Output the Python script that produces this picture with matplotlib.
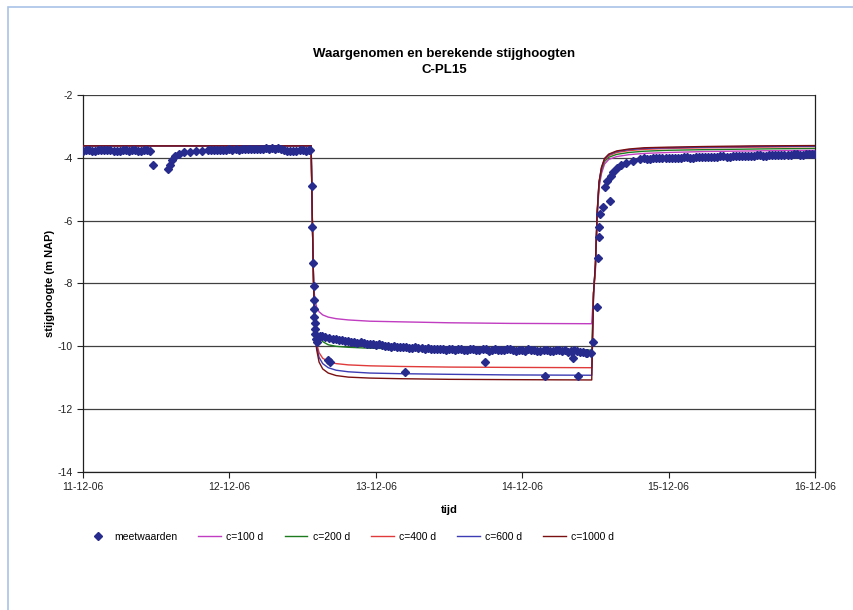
import matplotlib
matplotlib.use("Agg")
import matplotlib.pyplot as plt
import matplotlib.dates as mdates
from matplotlib.patches import Rectangle
import pandas as pd

plt.rcParams['font.family'] = ['Liberation Sans', 'DejaVu Sans']
plt.rcParams['axes.unicode_minus'] = False

# start van de meetreeks
start = pd.Timestamp("2006-12-11 00:00")

# meetwaarden als (uren na start, stijghoogte m NAP)
meet_voor = [(0, -3.77), (0.5, -3.76), (1, -3.75), (1.5, -3.77), (2, -3.78), (2.5, -3.76), (3, -3.76),
             (3.5, -3.74), (4, -3.74), (4.5, -3.76), (5, -3.77), (5.5, -3.78), (6, -3.79), (6.5, -3.76),
             (7, -3.75), (7.5, -3.77), (8, -3.76), (8.5, -3.75), (9, -3.78), (9.5, -3.79), (10, -3.74),
             (10.5, -3.76), (11, -3.77), (11.5, -4.22),
             (13.9, -4.36), (14.2, -4.22), (14.6, -4.06), (15.1, -3.95), (15.7, -3.88), (16.5, -3.83),
             (17.5, -3.80), (18.5, -3.78), (19.5, -3.77), (20.5, -3.76),
             (21, -3.76), (21.5, -3.75), (22, -3.74), (22.5, -3.75), (23, -3.74), (23.5, -3.75), (24, -3.73),
             (24.5, -3.74), (25, -3.73), (25.5, -3.74), (26, -3.72), (26.5, -3.73), (27, -3.72), (27.5, -3.73),
             (28, -3.71), (28.5, -3.72), (29, -3.71), (29.5, -3.72), (30, -3.70), (30.5, -3.71), (31, -3.70),
             (31.5, -3.71), (32, -3.70), (32.5, -3.71), (33, -3.74), (33.5, -3.77), (34, -3.78), (34.5, -3.77),
             (35, -3.77), (35.5, -3.76), (36, -3.76), (36.5, -3.77), (37, -3.76), (37.2, -3.75)]

meet_daling = [(37.5, -4.89), (37.6, -6.19), (37.7, -7.35), (37.8, -8.08), (37.85, -8.54), (37.9, -8.81),
               (37.95, -9.07), (38.0, -9.26), (38.05, -9.44), (38.1, -9.60), (38.2, -9.76), (38.3, -9.86),
               (38.5, -9.74), (38.8, -9.68), (39.2, -9.66), (39.7, -9.70), (40.2, -10.44), (40.3, -9.72),
               (40.5, -10.50),
               (41, -9.76), (41.5, -9.78), (42, -9.80), (42.5, -9.79), (43, -9.83), (43.5, -9.84), (44, -9.85),
               (44.5, -9.87), (45, -9.88), (45.5, -9.87), (46, -9.90), (46.5, -9.91), (47, -9.92), (47.5, -9.94),
               (48, -9.95), (48.5, -9.94), (49, -9.97), (49.5, -9.98), (50, -9.99), (50.5, -10.01), (51, -10.00),
               (51.5, -10.02), (52, -10.02), (52.5, -10.01), (52.8, -10.82), (53, -10.03), (53.5, -10.05),
               (54, -10.05), (54.5, -10.03), (55, -10.04), (55.5, -10.06), (56, -10.07), (56.5, -10.05),
               (57, -10.08), (57.5, -10.09), (58, -10.10), (58.5, -10.07), (59, -10.08), (59.5, -10.11),
               (60, -10.10), (60.5, -10.09), (61, -10.12), (61.5, -10.10), (62, -10.09), (62.5, -10.13),
               (63, -10.11), (63.5, -10.08), (64, -10.10), (64.5, -10.12), (65, -10.12), (65.5, -10.09),
               (65.9, -10.50), (66, -10.10), (66.5, -10.14), (67, -10.13), (67.5, -10.10), (68, -10.11),
               (68.5, -10.13), (69, -10.12), (69.5, -10.09), (70, -10.10), (70.5, -10.13), (71, -10.14),
               (71.5, -10.11), (72, -10.12), (72.5, -10.15), (73, -10.10), (73.5, -10.12), (74, -10.13),
               (74.5, -10.16), (75, -10.15), (75.5, -10.12), (75.7, -10.95), (76, -10.12), (76.5, -10.15),
               (77, -10.14), (77.5, -10.11), (78, -10.11), (78.5, -10.14), (79, -10.13), (79.5, -10.17),
               (80, -10.16), (80.3, -10.36), (80.5, -10.13), (81, -10.14), (81.1, -10.95), (81.5, -10.17),
               (82, -10.18), (82.5, -10.20), (82.7, -10.22), (83.2, -10.20)]

meet_herstel = [(83.66, -9.86), (84.2, -8.75), (84.48, -7.19), (84.55, -6.51), (84.6, -6.21), (84.75, -5.79),
                (85.25, -5.56), (85.6, -4.94), (85.85, -4.73), (86.4, -5.37), (86.5, -4.57), (86.9, -4.45),
                (87.5, -4.31), (88.2, -4.22), (89.1, -4.15), (90.2, -4.09), (91.3, -4.03),
                (92, -4.02), (92.5, -4.03), (93, -4.03), (93.5, -4.01), (94, -4.01), (94.5, -4.02), (95, -4.00),
                (95.5, -4.00), (96, -4.01), (96.5, -3.99), (97, -3.99), (97.5, -4.00), (98, -4.00), (98.5, -3.98),
                (99, -3.98), (99.5, -3.99), (100, -3.99), (100.5, -3.97), (101, -3.97), (101.5, -3.98),
                (102, -3.98), (102.5, -3.96), (103, -3.96), (103.5, -3.97), (104, -3.97), (104.5, -3.95),
                (105, -3.95), (105.5, -3.96), (106, -3.96), (106.5, -3.94), (107, -3.94), (107.5, -3.95),
                (108, -3.95), (108.5, -3.93), (109, -3.93), (109.5, -3.94), (110, -3.94), (110.5, -3.92),
                (111, -3.92), (111.5, -3.93), (112, -3.93), (112.5, -3.91), (113, -3.91), (113.5, -3.92),
                (114, -3.92), (114.5, -3.90), (115, -3.90), (115.5, -3.91), (116, -3.91), (116.5, -3.89),
                (117, -3.89), (117.5, -3.90), (118, -3.90), (118.5, -3.88), (119, -3.88), (119.5, -3.89),
                (120, -3.88)]

# berekende stijghoogten voor verschillende c-waarden
model_uur = [0, 37.4, 37.6, 37.8, 38.0, 38.3, 38.7, 39.3, 40.2, 41.5, 43.5, 47, 52, 60, 70, 83.4,
             83.7, 84.0, 84.3, 84.6, 85.0, 85.5, 86.2, 87.5, 89.5, 92, 96, 102, 110, 120]
c100 = [-3.62, -3.62, -6.0, -8.0, -8.5, -8.75, -8.9, -9.0, -9.07, -9.12, -9.16, -9.2, -9.22, -9.25, -9.27, -9.28,
        -8.3, -7.6, -5.9, -4.95, -4.5, -4.2, -4.05, -3.96, -3.9, -3.86, -3.83, -3.8, -3.78, -3.76]
c200 = [-3.62, -3.62, -6.0, -8.0, -9.0, -9.5, -9.7, -9.85, -9.95, -10.0, -10.03, -10.06, -10.08, -10.1, -10.11, -10.12,
        -8.3, -7.5, -5.8, -4.85, -4.4, -4.12, -3.98, -3.89, -3.83, -3.79, -3.76, -3.74, -3.72, -3.70]
c400 = [-3.62, -3.62, -6.0, -8.0, -9.3, -9.9, -10.2, -10.38, -10.48, -10.55, -10.59, -10.62, -10.64, -10.66, -10.67, -10.68,
        -8.3, -7.45, -5.75, -4.8, -4.35, -4.07, -3.93, -3.83, -3.77, -3.73, -3.7, -3.68, -3.66, -3.64]
c600 = [-3.62, -3.62, -6.0, -8.0, -9.4, -10.0, -10.35, -10.55, -10.68, -10.76, -10.81, -10.85, -10.87, -10.89, -10.91, -10.92,
        -8.3, -7.4, -5.7, -4.78, -4.32, -4.04, -3.9, -3.8, -3.74, -3.7, -3.68, -3.66, -3.64, -3.63]
c1000 = [-3.62, -3.62, -6.0, -8.0, -9.5, -10.1, -10.5, -10.72, -10.85, -10.93, -10.98, -11.01, -11.03, -11.05, -11.06, -11.07,
         -8.3, -7.4, -5.7, -4.76, -4.3, -4.02, -3.88, -3.78, -3.72, -3.68, -3.66, -3.64, -3.62, -3.61]

reeksen = [("c=100 d", c100, "#C03CC0"),
           ("c=200 d", c200, "#1E7A1E"),
           ("c=400 d", c400, "#E03A3A"),
           ("c=600 d", c600, "#3C3CB4"),
           ("c=1000 d", c1000, "#7A1010")]

meet = meet_voor + meet_daling + meet_herstel
meet_uur = [p[0] for p in meet]
meetwaarden = [p[1] for p in meet]

t_meet = start + pd.to_timedelta(meet_uur, unit="h")
t_model = start + pd.to_timedelta(model_uur, unit="h")

fig = plt.figure(figsize=(8.54, 6.10), dpi=100)
ax = fig.add_axes([0.0972, 0.2262, 0.8571, 0.6181])

ax.plot(t_meet, meetwaarden, linestyle="none", marker="D", markersize=3.6,
        color="#272B8E", label="meetwaarden", zorder=4)
for naam, waarden, kleur in reeksen:
    ax.plot(t_model, waarden, color=kleur, linewidth=1.0, label=naam, zorder=3)

ax.set_xlim(start, start + pd.Timedelta(days=5))
ax.set_ylim(-14, -2)
ax.set_yticks(range(-14, -1, 2))
ax.xaxis.set_major_locator(mdates.DayLocator())
ax.xaxis.set_major_formatter(mdates.DateFormatter("%d-%m-%y"))
ax.yaxis.grid(True, color="#404040", linewidth=0.9)
ax.set_axisbelow(True)
ax.tick_params(direction="out", length=4, width=0.8, labelsize=7.5, colors="#222222")
for s in ax.spines.values():
    s.set_color("#202020")
    s.set_linewidth(0.9)
ax.spines["top"].set_visible(False)

ax.set_xlabel("tijd", fontsize=8, fontweight="bold", labelpad=9)
ax.set_ylabel("stijghoogte (m NAP)", fontsize=8, fontweight="bold", labelpad=2)
fig.text(0.52, 0.898, "Waargenomen en berekende stijghoogten\nC-PL15", ha="center", va="center",
         fontsize=9.5, fontweight="bold", linespacing=1.5)

fig.legend(loc="center left", bbox_to_anchor=(0.09, 0.12), ncol=6, frameon=False,
           fontsize=7.5, handlelength=2.2, handletextpad=0.5, columnspacing=2.0)

# lichtblauwe kader rond de grafiek
fig.patches.append(Rectangle((8 / 854, -0.1), 1.2, 1 - 7 / 610 + 0.1, transform=fig.transFigure,
                             fill=False, edgecolor="#A9C2E6", linewidth=1.2))

fig.savefig("out.png", dpi=100)
